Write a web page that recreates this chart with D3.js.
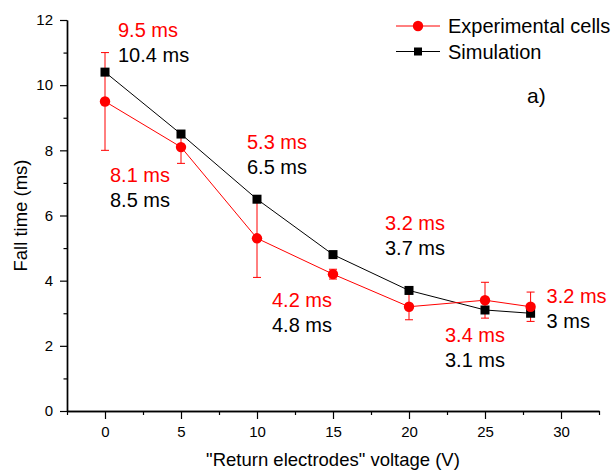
<!DOCTYPE html>
<html>
<head>
<meta charset="utf-8">
<script src="https://cdn.jsdelivr.net/npm/d3@7/dist/d3.min.js"></script>
<style>
  html, body { margin: 0; padding: 0; background: #fff; }
  svg { display: block; font-family: "Liberation Sans", Arial, sans-serif; }
</style>
</head>
<body>
<svg id="chart" width="613" height="472"></svg>
<script>
// Fall time versus "return electrodes" voltage
const voltages   = [0, 5, 10, 15, 20, 25, 28];
const expTimes   = [9.5, 8.1, 5.3, 4.2, 3.2, 3.4, 3.2];
const expErrors  = [1.5, 0.5, 1.2, 0.15, 0.4, 0.55, 0.45];
const simTimes   = [10.4, 8.5, 6.5, 4.8, 3.7, 3.1, 3.0];
const expLabels  = ["9.5 ms", "8.1 ms", "5.3 ms", "4.2 ms", "3.2 ms", "3.4 ms", "3.2 ms"];
const simLabels  = ["10.4 ms", "8.5 ms", "6.5 ms", "4.8 ms", "3.7 ms", "3.1 ms", "3 ms"];
const xTickVals  = [0, 5, 10, 15, 20, 25, 30];
const xMinorVals = [-2.5, 2.5, 7.5, 12.5, 17.5, 22.5, 27.5, 32.5];
const yTickVals  = [0, 2, 4, 6, 8, 10, 12];
const yMinorVals = [1, 3, 5, 7, 9, 11];
const seriesNames = ["Experimental cells", "Simulation"];

const RED = "#ff0000", BLACK = "#000000";
const svg = d3.select("#chart");

const x = d3.scaleLinear().domain([-2.5, 32.5]).range([67, 599]);
const y = d3.scaleLinear().domain([0, 12]).range([411, 20]);

// axes: major ticks with labels, minor ticks without
const xAxis = svg.append("g").attr("transform", `translate(0,${y(0)})`)
  .call(d3.axisBottom(x).tickValues(xTickVals).tickSize(8).tickPadding(7).tickSizeOuter(0));
const xMinor = svg.append("g").attr("transform", `translate(0,${y(0)})`)
  .call(d3.axisBottom(x).tickValues(xMinorVals).tickSize(4).tickFormat("").tickSizeOuter(0));
const yAxis = svg.append("g").attr("transform", `translate(${x(-2.5)},0)`)
  .call(d3.axisLeft(y).tickValues(yTickVals).tickSize(7).tickPadding(7).tickSizeOuter(0));
const yMinor = svg.append("g").attr("transform", `translate(${x(-2.5)},0)`)
  .call(d3.axisLeft(y).tickValues(yMinorVals).tickSize(3.5).tickFormat("").tickSizeOuter(0));

[xAxis, xMinor, yAxis, yMinor].forEach(g => {
  g.select(".domain").attr("stroke", BLACK).attr("stroke-width", 1.4);
  g.selectAll(".tick line").attr("stroke", BLACK).attr("stroke-width", 1.2);
  g.selectAll(".tick text").attr("fill", BLACK)
    .style("font-size", "15px").style("font-family", "'Liberation Sans', Arial, sans-serif");
});

// axis titles
svg.append("text")
  .attr("transform", `translate(27,${(y(0) + y(12)) / 2}) rotate(-90)`)
  .attr("text-anchor", "middle").style("font-size", "18.5px").attr("fill", BLACK)
  .text("Fall time (ms)");
svg.append("text")
  .attr("x", (x(-2.5) + x(32.5)) / 2).attr("y", 466)
  .attr("text-anchor", "middle").style("font-size", "18.5px").attr("fill", BLACK)
  .text("\"Return electrodes\" voltage (V)");

const expData = voltages.map((v, i) => ({ v, t: expTimes[i], e: expErrors[i] }));
const simData = voltages.map((v, i) => ({ v, t: simTimes[i] }));
const line = d3.line().x(d => x(d.v)).y(d => y(d.t));

// simulation series
svg.append("path").datum(simData).attr("d", line)
  .attr("fill", "none").attr("stroke", BLACK).attr("stroke-width", 1);

// experimental series with error bars
svg.append("path").datum(expData).attr("d", line)
  .attr("fill", "none").attr("stroke", RED).attr("stroke-width", 1);

const err = svg.append("g").attr("stroke", RED).attr("stroke-width", 1);
expData.forEach(d => {
  const cx = x(d.v), y1 = y(d.t + d.e), y2 = y(d.t - d.e);
  err.append("line").attr("x1", cx).attr("x2", cx).attr("y1", y1).attr("y2", y2);
  err.append("line").attr("x1", cx - 4).attr("x2", cx + 4).attr("y1", y1).attr("y2", y1);
  err.append("line").attr("x1", cx - 4).attr("x2", cx + 4).attr("y1", y2).attr("y2", y2);
});

svg.append("g").selectAll("rect").data(simData).join("rect")
  .attr("x", d => x(d.v) - 4.5).attr("y", d => y(d.t) - 4.5)
  .attr("width", 9).attr("height", 9).attr("fill", BLACK);

svg.append("g").selectAll("circle").data(expData).join("circle")
  .attr("cx", d => x(d.v)).attr("cy", d => y(d.t)).attr("r", 5.2).attr("fill", RED);

// value labels, placed relative to each experimental point
const labelShift = [[13, -64.5], [-71, 35], [-10, -89], [-61, 33], [-24, -77], [-40, 42], [16, -4]];
const labels = svg.append("g").style("font-size", "20px");
expData.forEach((d, i) => {
  const lx = x(d.v) + labelShift[i][0], ly = y(d.t) + labelShift[i][1];
  labels.append("text").attr("x", lx).attr("y", ly).attr("fill", RED).text(expLabels[i]);
  labels.append("text").attr("x", lx).attr("y", ly + 25).attr("fill", BLACK).text(simLabels[i]);
});

// legend
const legend = svg.append("g");
const legendRows = [
  { name: seriesNames[0], color: RED, y: 26, shape: "circle" },
  { name: seriesNames[1], color: BLACK, y: 51.5, shape: "square" }
];
legendRows.forEach(r => {
  legend.append("line").attr("x1", 396).attr("x2", 440).attr("y1", r.y).attr("y2", r.y)
    .attr("stroke", r.color).attr("stroke-width", 1);
  if (r.shape === "circle") {
    legend.append("circle").attr("cx", 418).attr("cy", r.y).attr("r", 5.2).attr("fill", r.color);
  } else {
    legend.append("rect").attr("x", 414).attr("y", r.y - 4).attr("width", 8).attr("height", 8).attr("fill", r.color);
  }
  legend.append("text").attr("x", 448).attr("y", r.y + 7)
    .style("font-size", "20px").attr("fill", BLACK).text(r.name);
});

svg.append("text").attr("x", 527).attr("y", 103)
  .style("font-size", "21px").attr("fill", BLACK).text("a)");
</script>
</body>
</html>
